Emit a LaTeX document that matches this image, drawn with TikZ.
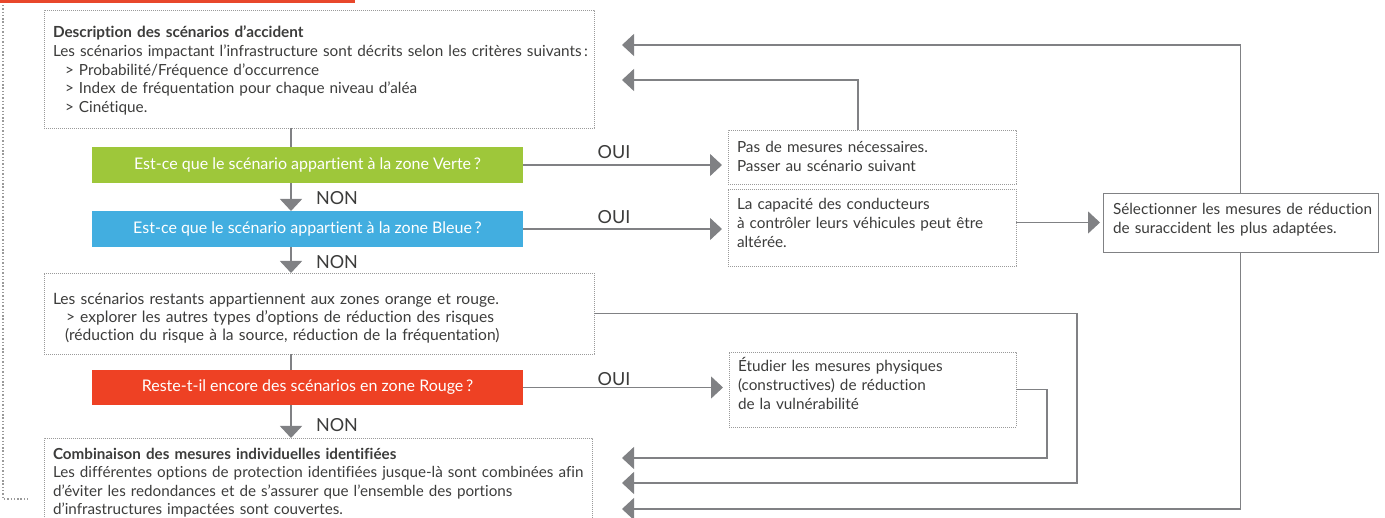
\documentclass[tikz,border=0pt]{standalone}
\usepackage{fontspec}
\setmainfont{Lato}[Ligatures={NoCommon}]
\usetikzlibrary{arrows.meta}

\definecolor{ink}{HTML}{3C3C3B}
\definecolor{wire}{HTML}{808184}
\definecolor{frame}{HTML}{9A9A9A}
\definecolor{zgreen}{HTML}{9EC73A}
\definecolor{zblue}{HTML}{42AEE0}
\definecolor{zred}{HTML}{EE4124}
\definecolor{barred}{HTML}{E8472B}

\begin{document}
\begin{tikzpicture}[x=1pt,y=-1pt,
  every node/.style={inner sep=0pt, outer sep=0pt, text=ink},
  body/.style={font=\fontsize{15.3}{18.8}\selectfont, anchor=base west, align=left},
  dotbox/.style={draw=frame, line width=0.7pt, dash pattern=on 0.9pt off 1.1pt,
    anchor=north west},
  plainbox/.style={draw=wire, line width=0.9pt, anchor=north west},
  zone/.style={anchor=north west, minimum width=431pt, minimum height=36pt,
    text=white, font=\fontsize{16}{18}\selectfont},
  tag/.style={font=\fontsize{18}{18}\selectfont},
  wireline/.style={draw=wire, line width=1.4pt},
  arr/.style={wireline, -{Triangle[length=12pt,width=22pt]}},
]
\useasboundingbox (0,0) rectangle (1385,518);

% top accent bar and dotted bracket on the left
\fill[barred] (0,0) rectangle (355,3.5);
\draw[draw=frame, line width=1.6pt, dash pattern=on 1.4pt off 1.9pt]
  (3,5) -- (3,499) -- (30,499);

% reference points
\coordinate (spine) at (291,0);
\coordinate (in1) at (622,45);
\coordinate (in2) at (622,80);
\coordinate (in4) at (622,458);
\coordinate (in5) at (622,483);
\coordinate (in6) at (622,509);
\coordinate (pasx) at (858,0);

% boxes
\node[dotbox, minimum width=550pt, minimum height=118pt] (desc) at (44,10) {};
\node[zone, fill=zgreen] (green) at (92,147)
  {Est-ce que le scénario appartient à la zone Verte\,?};
\node[zone, fill=zblue] (blue) at (92,211)
  {Est-ce que le scénario appartient à la zone Bleue\,?};
\node[dotbox, minimum width=550pt, minimum height=81pt] (orange) at (44,273) {};
\node[zone, fill=zred, minimum height=35pt] (red) at (92,370)
  {Reste-t-il encore des scénarios en zone Rouge\,?};
\node[dotbox, minimum width=548pt, minimum height=100pt] (combo) at (44,438) {};

\node[dotbox, minimum width=288pt, minimum height=54pt] (pasde) at (728,130) {};
\node[dotbox, minimum width=288pt, minimum height=77pt] (capa) at (728,189) {};
\node[dotbox, minimum width=287pt, minimum height=75pt] (etudier) at (729,352) {};
\node[plainbox, minimum width=275pt, minimum height=59pt] (select) at (1103,193) {};

% box texts
\node[body, text width=545pt] (desctext) at (53,37.5)
  {\textbf{Description des scénarios d’accident}\\
   Les scénarios impactant l’infrastructure sont décrits selon les critères suivants\,:\\
   \hspace*{12pt}> Probabilité/Fréquence d’occurrence\\
   \hspace*{12pt}> Index de fréquentation pour chaque niveau d’aléa\\
   \hspace*{12pt}> Cinétique.};
\node[body, text width=545pt, font=\fontsize{15.6}{18}\selectfont] (orangetext) at (53,304.5)
  {Les scénarios restants appartiennent aux zones orange et rouge.\\
   \hspace*{13pt}> explorer les autres types d’options de réduction des risques\\
   \hspace*{12pt}(réduction du risque à la source, réduction de la fréquentation)};
\node[body, text width=545pt, font=\fontsize{15.2}{18.4}\selectfont] (combotext) at (53,459.5)
  {\textbf{Combinaison des mesures individuelles identifiées}\\
   Les différentes options de protection identifiées jusque-là sont combinées afin\\
   d’éviter les redondances et de s’assurer que l’ensemble des portions\\
   d’infrastructures impactées sont couvertes.};
\node[body, text width=275pt] (pastext) at (737,152.5)
  {Pas de mesures nécessaires.\\ Passer au scénario suivant};
\node[body, text width=275pt] (capatext) at (737,209.5)
  {La capacité des conducteurs\\ à contrôler leurs véhicules peut être\\ altérée.};
\node[body, text width=275pt] (etudiertext) at (738,371.5)
  {Étudier les mesures physiques\\ (constructives) de réduction\\ de la vulnérabilité};
\node[body, text width=265pt] (selecttext) at (1113,214.5)
  {Sélectionner les mesures de réduction\\ de suraccident les plus adaptées.};

% yes / no labels
\node[tag] (oui1) at (614,152) {OUI};
\node[tag] (oui2) at (614,217) {OUI};
\node[tag] (oui3) at (614,379) {OUI};
\node[tag] (non1) at (337,198) {NON};
\node[tag] (non2) at (337,262) {NON};
\node[tag] (non3) at (337,425) {NON};

% main vertical flow
\draw[wireline] (desc.south -| spine) -- (green.north -| spine);
\draw[arr] (green.south -| spine) -- (blue.north -| spine);
\draw[arr] (blue.south -| spine) -- (orange.north -| spine);
\draw[wireline] (orange.south -| spine) -- (red.north -| spine);
\draw[arr] (red.south -| spine) -- (combo.north -| spine);

% "yes" branches
\draw[arr, shorten >=6pt] (green.east) -- (green.east -| pasde.west);
\draw[arr, shorten >=6pt] (blue.east) -- (blue.east -| capa.west);
\draw[arr, shorten >=6pt] (red.east) -- (red.east -| etudier.west);
\draw[arr, shorten >=3pt] (capa.east |- select.west) -- (select.west);

% loops back to the description
\draw[arr] (pasde.north -| pasx) |- (in2);
\draw[arr] (select.north) |- (in1);

% feeds into the combination of measures
\draw[arr] (etudier.east) -- ++(31,0) |- (in4);
\draw[arr] (orange.east) -- ++(483,0) |- (in5);
\draw[arr] (select.south) |- (in6);
\end{tikzpicture}
\end{document}
